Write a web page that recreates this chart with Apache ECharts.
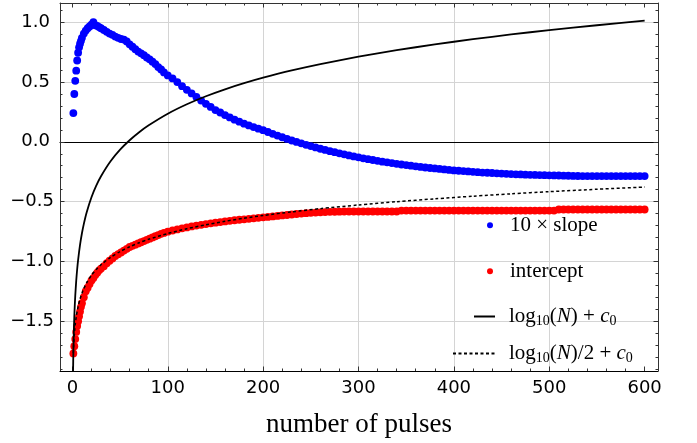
<!DOCTYPE html>
<html><head><meta charset="utf-8">
<script src="https://cdn.jsdelivr.net/npm/echarts@6/dist/echarts.min.js"></script>
<style>html,body{margin:0;padding:0;background:#fff}#c{width:697px;height:443px}</style>
</head><body><div id="c"></div>
<script>
// ---- data ----
const pulses = [1,2,3,4,5,6,7,8,9,10,
  12,14,16,18,20,22,24,26,28,30,
  33,36,39,42,45,48,51,54,57,60,
  63,66,69,72,75,78,81,84,87,90,
  93,96,100,
  105,110,115,120,125,130,135,140,145,150,
  155,160,165,170,175,180,185,190,195,200,
  205,210,215,220,225,230,235,240,245,250,
  255,260,265,270,275,280,285,290,295,300,
  305,310,315,320,325,330,335,340,345,350,
  355,360,365,370,375,380,385,390,395,400,
  405,410,415,420,425,430,435,440,445,450,
  455,460,465,470,475,480,485,490,495,500,
  505,510,515,520,525,530,535,540,545,550,
  555,560,565,570,575,580,585,590,595,600];
const slope10 = [0.24,0.40,0.51,0.595,0.68,0.745,0.79,0.82,0.845,0.87,
  0.905,0.93,0.95,0.965,0.98,1.0,0.975,0.97,0.96,0.95,
  0.935,0.92,0.905,0.895,0.88,0.87,0.86,0.855,0.84,0.815,
  0.795,0.775,0.755,0.74,0.725,0.705,0.69,0.67,0.65,0.625,
  0.605,0.58,0.555,
  0.53,0.50,0.465,0.435,0.405,0.375,0.345,0.318,0.292,0.265,
  0.245,0.224,0.204,0.185,0.168,0.152,0.137,0.123,0.11,0.097,
  0.082,0.067,0.052,0.038,0.024,0.011,-0.001,-0.013,-0.025,-0.036,
  -0.047,-0.058,-0.068,-0.078,-0.087,-0.096,-0.105,-0.114,-0.122,-0.13,
  -0.138,-0.145,-0.152,-0.159,-0.166,-0.172,-0.178,-0.184,-0.19,-0.195,
  -0.2,-0.205,-0.21,-0.215,-0.219,-0.223,-0.227,-0.231,-0.235,-0.239,
  -0.242,-0.245,-0.248,-0.251,-0.254,-0.257,-0.259,-0.261,-0.264,-0.266,
  -0.268,-0.27,-0.272,-0.273,-0.275,-0.276,-0.277,-0.278,-0.279,-0.28,
  -0.281,-0.282,-0.283,-0.284,-0.285,-0.286,-0.287,-0.287,-0.287,-0.287,
  -0.287,-0.287,-0.287,-0.287,-0.287,-0.287,-0.287,-0.287,-0.287,-0.287];
const intercept = [-1.77,-1.71,-1.65,-1.59,-1.54,-1.50,-1.46,-1.42,-1.38,-1.35,
  -1.30,-1.25,-1.22,-1.19,-1.16,-1.14,-1.115,-1.095,-1.075,-1.06,
  -1.04,-1.015,-0.995,-0.975,-0.955,-0.94,-0.925,-0.91,-0.895,-0.88,
  -0.87,-0.86,-0.85,-0.84,-0.83,-0.82,-0.81,-0.80,-0.79,-0.78,
  -0.77,-0.762,-0.752,
  -0.742,-0.733,-0.724,-0.716,-0.708,-0.701,-0.694,-0.688,-0.682,-0.676,
  -0.671,-0.666,-0.661,-0.656,-0.652,-0.648,-0.644,-0.64,-0.636,-0.632,
  -0.628,-0.624,-0.62,-0.616,-0.612,-0.608,-0.604,-0.6,-0.597,-0.594,
  -0.592,-0.59,-0.588,-0.586,-0.585,-0.584,-0.583,-0.583,-0.583,-0.583,
  -0.583,-0.583,-0.583,-0.583,-0.583,-0.583,-0.583,-0.583,-0.575,-0.575,
  -0.575,-0.575,-0.575,-0.575,-0.575,-0.575,-0.575,-0.575,-0.575,-0.575,
  -0.575,-0.575,-0.575,-0.575,-0.575,-0.575,-0.575,-0.575,-0.575,-0.575,
  -0.575,-0.575,-0.575,-0.575,-0.575,-0.575,-0.575,-0.575,-0.575,-0.575,
  -0.575,-0.566,-0.566,-0.566,-0.566,-0.566,-0.566,-0.566,-0.566,-0.566,
  -0.566,-0.566,-0.566,-0.566,-0.566,-0.566,-0.566,-0.566,-0.566,-0.566];
const fullN = [0.7,0.8,0.9,1,1.25,1.5,2,2.5,3,4,5,6,8,10,12,15,20,25,30,40,50,60,70,80,100,120,140,160,180,200,230,260,300,340,380,420,460,500,550,600];
const fullFit = [-1.92,-1.862,-1.811,-1.765,-1.668,-1.589,-1.464,-1.367,-1.288,-1.163,-1.066,-0.987,-0.862,-0.765,-0.686,-0.589,-0.464,-0.367,-0.288,-0.163,-0.066,0.013,0.08,0.138,0.235,0.314,0.381,0.439,0.49,0.536,0.597,0.65,0.712,0.766,0.815,0.858,0.898,0.934,0.975,1.013];
const halfN = [1,1.25,1.5,2,2.5,3,4,5,6,8,10,12,15,20,25,30,40,50,60,70,80,100,120,140,160,180,200,230,260,300,340,380,420,460,500,550,600];
const halfFit = [-1.767,-1.719,-1.679,-1.617,-1.568,-1.528,-1.466,-1.418,-1.378,-1.315,-1.267,-1.227,-1.179,-1.116,-1.068,-1.028,-0.966,-0.918,-0.878,-0.844,-0.815,-0.767,-0.727,-0.694,-0.665,-0.639,-0.616,-0.586,-0.559,-0.528,-0.501,-0.477,-0.455,-0.435,-0.417,-0.397,-0.378];
const xMajor = [0,100,200,300,400,500,600];
const xGrid = [100,200,300,400,500];
const xMinor = [20,40,60,80,120,140,160,180,220,240,260,280,320,340,360,380,420,440,460,480,520,540,560,580];
const yMajor = [-1.5,-1,-0.5,0,0.5,1];
const yGrid = [-1.5,-1,-0.5,0.5,1];
const yMinor = [-1.9,-1.8,-1.7,-1.6,-1.4,-1.3,-1.2,-1.1,-0.9,-0.8,-0.7,-0.6,-0.4,-0.3,-0.2,-0.1,0.1,0.2,0.3,0.4,0.6,0.7,0.8,0.9,1.1];
const names = ['10 × slope','intercept','log10(N) + c0','log10(N)/2 + c0'];
const xTitle = 'number of pulses';

// ---- chart ----
const X0 = -13, X1 = 614, Y0 = -1.917, Y1 = 1.161;
const frame = '#333';
function xAx(pos, ticks, len, opts) {
  return Object.assign({type:'value', position:pos, min:X0, max:X1,
    axisLine:{show:false, onZero:false},
    axisTick:{show:true, inside:true, length:len, customValues:ticks, lineStyle:{color:frame, width:1}},
    axisLabel:{show:false, customValues:ticks}, splitLine:{show:false}}, opts||{});
}
function yAx(pos, ticks, len, opts) {
  return Object.assign({type:'value', position:pos, min:Y0, max:Y1,
    axisLine:{show:false, onZero:false},
    axisTick:{show:true, inside:true, length:len, customValues:ticks, lineStyle:{color:frame, width:1}},
    axisLabel:{show:false, customValues:ticks}, splitLine:{show:false}}, opts||{});
}
const labelFont = {fontFamily:'DejaVu Sans', fontSize:18, color:'#000'};
const xAxes = [
  xAx('bottom', xMajor, 4.5, {
    axisLine:{show:true, onZero:false, lineStyle:{color:'#000', width:1}},
    axisLabel:Object.assign({show:true, customValues:xMajor, margin:8}, labelFont),
    name:xTitle, nameLocation:'middle', nameGap:40,
    nameTextStyle:{fontFamily:'Liberation Serif', fontSize:27, color:'#000'}
  }),
  xAx('bottom', xMinor, 2.5),
  xAx('top', xMajor, 4.5, {axisLine:{show:true, onZero:false, lineStyle:{color:frame, width:1}}}),
  xAx('top', xMinor, 2.5),
  // grid lines + zero line
  xAx('bottom', xGrid, 0, {
    axisTick:{show:false, customValues:xGrid},
    axisLine:{show:true, onZero:true, onZeroAxisIndex:0, lineStyle:{color:'#000', width:1.2}},
    splitLine:{show:true, lineStyle:{color:'#d4d4d4', width:1}}
  })
];
const yAxes = [
  yAx('left', yMajor, 4.5, {
    axisLine:{show:true, onZero:false, lineStyle:{color:frame, width:1}},
    axisLabel:{show:true, customValues:yMajor, margin:6,
      formatter: v => v < 0 ? '{n|' + '\u2212' + Math.abs(v).toFixed(1) + '}' : '{p|' + v.toFixed(1) + '}',
      rich:{n:Object.assign({}, labelFont), p:Object.assign({padding:[0,4,0,0]}, labelFont)}}
  }),
  yAx('left', yMinor, 2.5),
  yAx('right', yMajor, 4.5, {axisLine:{show:true, onZero:false, lineStyle:{color:frame, width:1}}}),
  yAx('right', yMinor, 2.5),
  yAx('left', yGrid, 0, {axisTick:{show:false, customValues:yGrid},
    splitLine:{show:true, lineStyle:{color:'#d4d4d4', width:1}}})
];

function richFor(pad) {
  const base = {fontFamily:'Liberation Serif', fontSize:21, color:'#000', lineHeight:24};
  return {
    r0:Object.assign({}, base, {padding:[0,0,0,pad]}),
    r:Object.assign({}, base),
    i:Object.assign({}, base, {fontStyle:'italic'}),
    sub:{fontFamily:'Liberation Serif', fontSize:14, color:'#000', lineHeight:10, verticalAlign:'bottom'}
  };
}
const legendText = {};
legendText[names[0]] = '{r0|10 × slope}';
legendText[names[1]] = '{r0|intercept}';
legendText[names[2]] = '{r0|log}{sub|10}{r|(}{i|N}{r|) + }{i|c}{sub|0}';
legendText[names[3]] = '{r0|log}{sub|10}{r|(}{i|N}{r|)/2 + }{i|c}{sub|0}';
function leg(name, left, cy, w, h, pad, hideSymbol) {
  const l = {data:[name], left:left, top:cy - 12, orient:'vertical', padding:0, itemGap:0,
    itemWidth:w, itemHeight:h, selectedMode:false,
    formatter: n => legendText[n], textStyle:{rich:richFor(pad)}};
  if (hideSymbol) l.itemStyle = {opacity:0};
  return l;
}

const option = {
  animation:false,
  backgroundColor:'#fff',
  grid:{left:60, right:39, top:3, bottom:71, containLabel:false},
  xAxis:xAxes,
  yAxis:yAxes,
  legend:[
    leg(names[0], 487, 226.7, 6, 6, 12, false),
    leg(names[1], 487, 272.7, 6, 6, 12, false),
    leg(names[2], 473, 318, 21, 6, 9, true),
    leg(names[3], 452, 355, 42, 6, 9, true)
  ],
  series:[
    {name:names[0], type:'scatter', xAxisIndex:0, yAxisIndex:0, symbol:'circle', symbolSize:7.8,
      itemStyle:{color:'#0000ff', opacity:1}, z:2, data:pulses.map((n,i)=>[n, slope10[i]])},
    {name:names[1], type:'scatter', xAxisIndex:0, yAxisIndex:0, symbol:'circle', symbolSize:7.8,
      itemStyle:{color:'#ff0000', opacity:1}, z:3, data:pulses.map((n,i)=>[n, intercept[i]])},
    {name:names[2], type:'line', xAxisIndex:0, yAxisIndex:0, symbol:'none', showSymbol:false,
      smooth:0.25, z:4, lineStyle:{color:'#000', width:1.8},
      itemStyle:{color:'#000'}, data:fullN.map((n,i)=>[n, fullFit[i]])},
    {name:names[3], type:'line', xAxisIndex:0, yAxisIndex:0, symbol:'none', showSymbol:false,
      smooth:0.25, z:4, lineStyle:{color:'#000', width:1.5, type:[3,2.5]},
      itemStyle:{color:'#000'}, data:halfN.map((n,i)=>[n, halfFit[i]])}
  ]
};
const chart = echarts.init(document.getElementById('c'), null, {renderer:'canvas'});
chart.setOption(option);
</script>
</body></html>
